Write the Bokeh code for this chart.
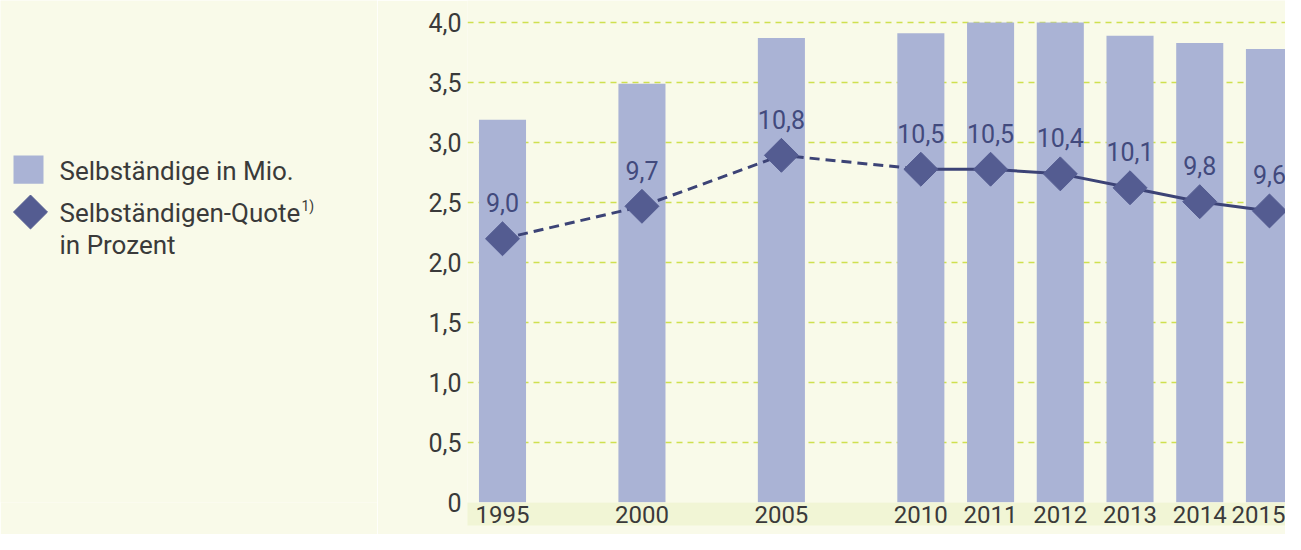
from bokeh.plotting import figure
from bokeh.models import Range1d, FixedTicker, ColumnDataSource
from bokeh.layouts import row
from bokeh.embed import file_html
from bokeh.resources import INLINE
from bokeh.core.properties import value

# ---- data ----
years = ["1995", "2000", "2005", "2010", "2011", "2012", "2013", "2014", "2015"]
selbstaendige_mio = [3.19, 3.49, 3.87, 3.91, 4.00, 4.00, 3.89, 3.83, 3.78]
quote_prozent = [9.0, 9.7, 10.8, 10.5, 10.5, 10.4, 10.1, 9.8, 9.6]
quote_labels = ["9,0", "9,7", "10,8", "10,5", "10,5", "10,4", "10,1", "9,8", "9,6"]
y_ticks = [0, 0.5, 1.0, 1.5, 2.0, 2.5, 3.0, 3.5, 4.0]
y_tick_labels = ["0", "0,5", "1,0", "1,5", "2,0", "2,5", "3,0", "3,5", "4,0"]
legend_bar = "Selbständige in Mio."
legend_line = ["Selbständigen-Quote", "in Prozent"]
legend_sup = "1)"

# ---- styles ----
BG = "#f9fae9"
BAND = "#f1f5d5"
BAR = "#aab3d5"
LINE = "#3c4376"
MARK = "#545c91"
LBL = "#424a7d"
TXT = "#3a3a3a"
GRID = "#cfe04f"
FONT = "Roboto"


def slot(y):
    y = int(y)
    return (y - 1995) * 0.4 if y <= 2010 else 6 + (y - 2010)


xpos = [slot(y) for y in years]

src = ColumnDataSource(dict(x=xpos, top=selbstaendige_mio, q=quote_prozent, lab=quote_labels))

H = 534
LEG_W = 377
CH_W = 908

p = figure(width=CH_W, height=H, output_backend="svg", toolbar_location=None,
           x_range=Range1d(-0.502, 11.23), y_range=Range1d(0, 4.1833),
           min_border_left=90, min_border_right=0, min_border_top=0, min_border_bottom=32)
p.background_fill_color = BG
p.border_fill_color = BG
p.outline_line_color = None
p.extra_y_ranges = {"pct": Range1d(3.31, 14.14)}

p.xgrid.visible = False
p.ygrid.ticker = FixedTicker(ticks=y_ticks)
p.ygrid.grid_line_color = GRID
p.ygrid.grid_line_dash = "6 5"
p.ygrid.grid_line_width = 1.5

p.vbar(x="x", top="top", width=0.675, source=src, fill_color=BAR, line_color=None)

# dashed part (1995-2010), solid part (2010-2015)
p.line(xpos[:4], quote_prozent[:4], y_range_name="pct", line_color=LINE, line_width=3, line_dash="10 6")
p.line(xpos[3:], quote_prozent[3:], y_range_name="pct", line_color=LINE, line_width=3)
p.scatter(x="x", y="q", source=src, y_range_name="pct", marker="square", size=24, angle=0.785398,
          fill_color=MARK, line_color=MARK)
p.text(x="x", y="q", text="lab", source=src, y_range_name="pct", y_offset=-36,
       text_align="center", text_baseline="middle", text_color=LBL,
       text_font=value(FONT), text_font_size="25px")

p.yaxis.ticker = FixedTicker(ticks=y_ticks)
p.yaxis.major_label_overrides = {t: l for t, l in zip(y_ticks, y_tick_labels)}
p.yaxis.axis_line_color = None
p.yaxis.major_tick_line_color = None
p.yaxis.minor_tick_line_color = None
p.yaxis.major_tick_out = 0
p.yaxis.major_label_standoff = 6
p.yaxis.major_label_text_font = FONT
p.yaxis.major_label_text_font_size = "25px"
p.yaxis.major_label_text_color = TXT

p.xaxis.ticker = FixedTicker(ticks=xpos)
p.xaxis.major_label_overrides = {x: y for x, y in zip(xpos, years)}
p.xaxis.axis_line_color = None
p.xaxis.major_tick_line_color = None
p.xaxis.minor_tick_line_color = None
p.xaxis.major_tick_out = 0
p.xaxis.major_label_standoff = 3
p.xaxis.major_label_text_font = FONT
p.xaxis.major_label_text_font_size = "24px"
p.xaxis.major_label_text_color = TXT
p.xaxis.background_fill_color = BAND

# ---- legend panel ----
lg = figure(width=LEG_W, height=H, output_backend="svg", toolbar_location=None,
            x_range=Range1d(0, LEG_W), y_range=Range1d(H, 0),
            min_border=0)
lg.background_fill_color = BG
lg.border_fill_color = BG
lg.outline_line_color = None
lg.axis.visible = False
lg.grid.visible = False

lg.quad(left=[13], right=[43], top=[165], bottom=[195], fill_color=BAR, line_color=None)
lg.scatter(x=[30], y=[225], marker="square", size=24, angle=0.785398, fill_color=MARK, line_color=MARK)
lg.text(x=[59], y=[181], text=[legend_bar], text_baseline="middle", text_color=TXT,
        text_font=value(FONT), text_font_size="26px")
lg.text(x=[59, 59], y=[226, 260], text=legend_line, text_baseline="middle", text_color=TXT,
        text_font=value(FONT), text_font_size="26px")
lg.text(x=[301], y=[219], text=[legend_sup], text_baseline="middle", text_color=TXT,
        text_font=value(FONT), text_font_size="14px")

layout = row(lg, p, spacing=0)
open("out.html", "w").write(file_html(layout, INLINE))
